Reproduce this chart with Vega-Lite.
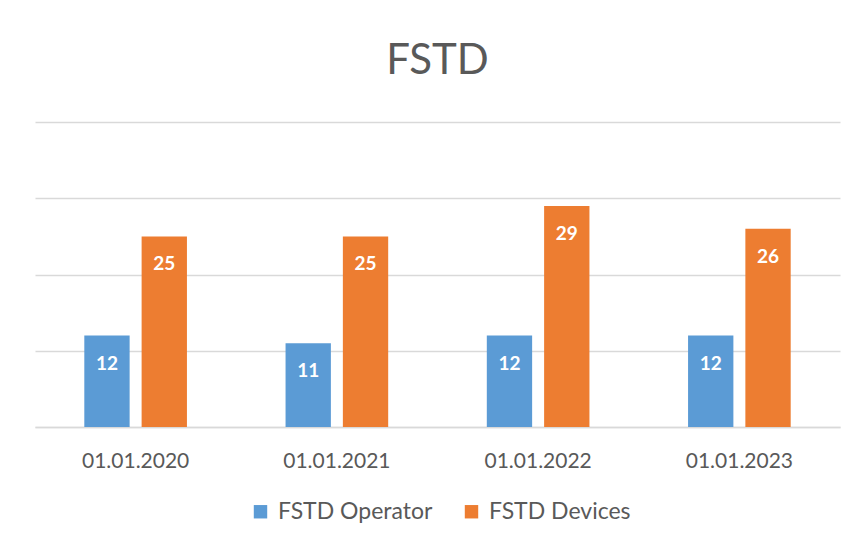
{
  "$schema": "https://vega.github.io/schema/vega-lite/v6.json",
  "autosize": "none",
  "width": 805,
  "height": 305,
  "padding": {"left": 35, "top": 122, "right": 23, "bottom": 124},
  "background": "white",
  "title": {"text": "FSTD", "fontSize": 42, "font": "Lato", "fontWeight": "normal", "color": "#595959", "anchor": "middle", "offset": 39},
  "data": {"values": [
    {"date": "01.01.2020", "series": "FSTD Operator", "value": 12},
    {"date": "01.01.2020", "series": "FSTD Devices", "value": 25},
    {"date": "01.01.2021", "series": "FSTD Operator", "value": 11},
    {"date": "01.01.2021", "series": "FSTD Devices", "value": 25},
    {"date": "01.01.2022", "series": "FSTD Operator", "value": 12},
    {"date": "01.01.2022", "series": "FSTD Devices", "value": 29},
    {"date": "01.01.2023", "series": "FSTD Operator", "value": 12},
    {"date": "01.01.2023", "series": "FSTD Devices", "value": 26}
  ]},
  "encoding": {
    "x": {"field": "date", "type": "nominal", "sort": null,
      "scale": {"paddingInner": 0.49, "paddingOuter": 0.245},
      "axis": {"title": null, "labelAngle": 0, "labelFont": "Lato", "labelFontSize": 21, "labelColor": "#595959", "ticks": false, "domainColor": "#D9D9D9", "domainWidth": 1.3, "labelPadding": 23}},
    "xOffset": {"field": "series", "type": "nominal", "sort": ["FSTD Operator", "FSTD Devices"], "scale": {"paddingInner": 0.209, "paddingOuter": 0}},
    "y": {"field": "value", "type": "quantitative", "scale": {"domain": [0, 40]},
      "axis": {"title": null, "labels": false, "ticks": false, "domain": false, "values": [0, 10, 20, 30, 40], "gridColor": "#D9D9D9", "gridWidth": 1.3}}
  },
  "layer": [
    {"mark": {"type": "bar"},
     "encoding": {"color": {"field": "series", "type": "nominal", "sort": ["FSTD Operator", "FSTD Devices"],
       "scale": {"domain": ["FSTD Operator", "FSTD Devices"], "range": ["#5B9BD5", "#ED7D31"]},
       "legend": {"title": null, "orient": "none", "legendX": 214, "legendY": 378, "direction": "horizontal", "symbolType": "square", "symbolSize": 180, "symbolStrokeWidth": 0, "labelFont": "Lato", "labelFontSize": 23, "labelColor": "#595959", "columnPadding": 27, "symbolOffset": 0, "labelOffset": 6}}}},
    {"mark": {"type": "text", "baseline": "middle", "dy": 28, "color": "white", "font": "Lato", "fontWeight": "bold", "fontSize": 19},
     "encoding": {"text": {"field": "value", "type": "quantitative"}}}
  ],
  "config": {"view": {"stroke": null}}
}
